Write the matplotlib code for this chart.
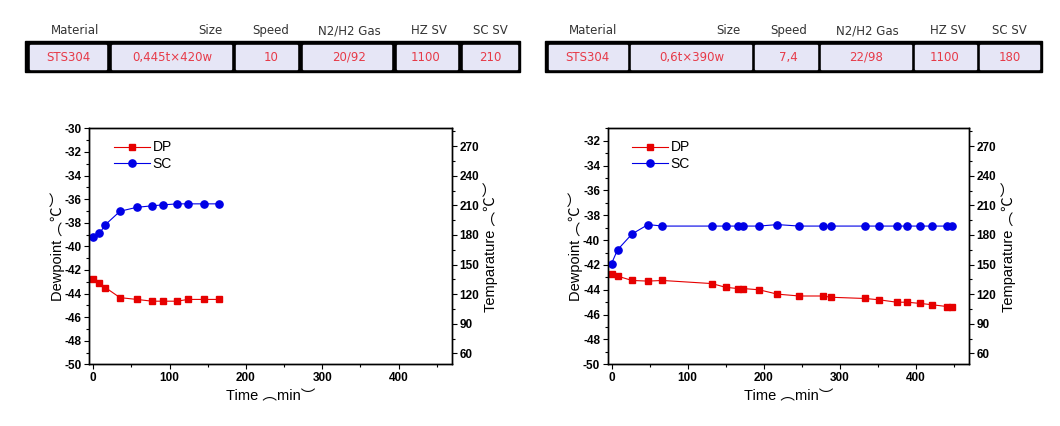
import numpy as np
import matplotlib.pyplot as plt
from matplotlib.patches import Rectangle
from matplotlib.ticker import MultipleLocator

plt.rcParams['axes.unicode_minus'] = False

# table data
headers = ['Material', 'Size', 'Speed', 'N2/H2 Gas', 'HZ SV', 'SC SV']
left_row = ['STS304', '0,445t×420w', '10', '20/92', '1100', '210']
right_row = ['STS304', '0,6t×390w', '7,4', '22/98', '1100', '180']

# left chart (min / degC)
t_left = [0, 8, 16, 35, 57, 77, 92, 110, 124, 145, 165]
dp_left = [-42.8, -43.15, -43.5, -44.35, -44.5, -44.65, -44.65, -44.65, -44.5, -44.5, -44.5]
sc_left = [178, 181.5, 190.5, 204, 208, 209.5, 210.5, 211.5, 211.5, 211.5, 211.5]

# right chart
t_right = [0, 8, 27, 48, 67, 132, 150, 166, 173, 194, 218, 247, 278, 288, 333,
           351, 375, 389, 406, 421, 441, 448]
dp_right = [-42.75, -42.9, -43.25, -43.3, -43.25, -43.5, -43.8, -43.9, -43.9, -44.0,
            -44.35, -44.5, -44.5, -44.6, -44.7, -44.8, -45.0, -45.0, -45.1, -45.2,
            -45.35, -45.35]
sc_right = [151, 165, 181, 190.5, 189, 189, 189, 189, 189, 189, 190.5, 189, 189, 189,
            189, 189, 189, 189, 189, 189, 189, 189]

RED = '#e60000'
BLUE = '#0000e6'
TXT_RED = '#e63a48'
CELL = '#e6e6f6'
LBL_FONT = ['Liberation Sans', 'Noto Sans CJK KR']

fig = plt.figure(figsize=(10.6, 4.26), dpi=100)

# overlay axes in pixel coordinates for the two tables
bg = fig.add_axes([0, 0, 1, 1])
bg.set_xlim(0, 1060)
bg.set_ylim(426, 0)
bg.axis('off')


def draw_table(x0, x1, cells, head_x, text_x, row):
    bg.add_patch(Rectangle((x0, 41), x1 - x0, 31, color='black'))
    for (a, b) in cells:
        bg.add_patch(Rectangle((a, 44.5), b - a, 24, color=CELL))
    for h, x in zip(headers, head_x):
        bg.text(x, 34, h, ha='center', va='baseline', fontsize=8.5, color='#333333',
                family='DejaVu Sans')
    for v, x in zip(row, text_x):
        bg.text(x, 61, v, ha='center', va='baseline', fontsize=8.5, color=TXT_RED,
                family='DejaVu Sans')


draw_table(25, 519.5,
           [(30, 106), (111.5, 230.5), (236, 297), (302.5, 391), (396.5, 457), (462.5, 517)],
           [75, 210, 271, 349, 429, 490],
           [68, 172, 271, 349, 426, 490], left_row)
draw_table(545, 1042,
           [(548.5, 627), (630.5, 751), (754.5, 816.5), (820.5, 910.5), (915, 975.5), (980, 1039)],
           [593, 728, 789, 867, 948, 1009],
           [587, 692, 788, 866, 945, 1010], right_row)


def make_chart(rect, t, dp, sc, ylim):
    ax = fig.add_axes(rect)
    ax2 = ax.twinx()
    ax.plot(t, dp, '-s', color=RED, ms=4.5, lw=0.8, label='DP')
    ax2.plot(t, sc, '-o', color=BLUE, ms=5.2, lw=0.8, label='SC')
    ax.set_xlim(-5, 470)
    ax.set_ylim(*ylim)
    ax2.set_ylim(49, 288)
    ax.xaxis.set_major_locator(MultipleLocator(100))
    ax.xaxis.set_minor_locator(MultipleLocator(50))
    ax.yaxis.set_major_locator(MultipleLocator(2))
    ax.yaxis.set_minor_locator(MultipleLocator(1))
    ax2.yaxis.set_major_locator(MultipleLocator(30))
    ax2.yaxis.set_minor_locator(MultipleLocator(15))
    for a in (ax, ax2):
        a.tick_params(which='major', direction='out', length=3.5, width=0.8,
                      labelsize=8.5, pad=2)
        a.tick_params(which='minor', direction='out', length=2, width=0.8)
        for lab in a.get_xticklabels() + a.get_yticklabels():
            lab.set_fontweight('bold')
            lab.set_family('Liberation Sans')
        for s in a.spines.values():
            s.set_linewidth(1.0)
    ax.set_xlabel('Time ︵min︶', family=LBL_FONT, fontsize=10.5, labelpad=4)
    ax.set_ylabel('Dewpoint ︵℃︶', family=LBL_FONT, fontsize=10.5, labelpad=0)
    ax2.set_ylabel('Temparature ︵℃︶', family=LBL_FONT, fontsize=10.5, labelpad=3)
    h1, l1 = ax.get_legend_handles_labels()
    h2, l2 = ax2.get_legend_handles_labels()
    ax.legend(h1 + h2, l1 + l2, loc='upper left', bbox_to_anchor=(0.04, 0.99),
              frameon=False, fontsize=9.5, handlelength=2.6, handletextpad=0.2,
              labelspacing=0.2, borderaxespad=0.3, prop={'family': 'Liberation Sans'})
    return ax, ax2


make_chart([0.0844, 0.1448, 0.342, 0.554], t_left, dp_left, sc_left, (-50, -30))
make_chart([0.5733, 0.1448, 0.3409, 0.554], t_right, dp_right, sc_right, (-50, -31))

fig.savefig('out.png', dpi=100)
